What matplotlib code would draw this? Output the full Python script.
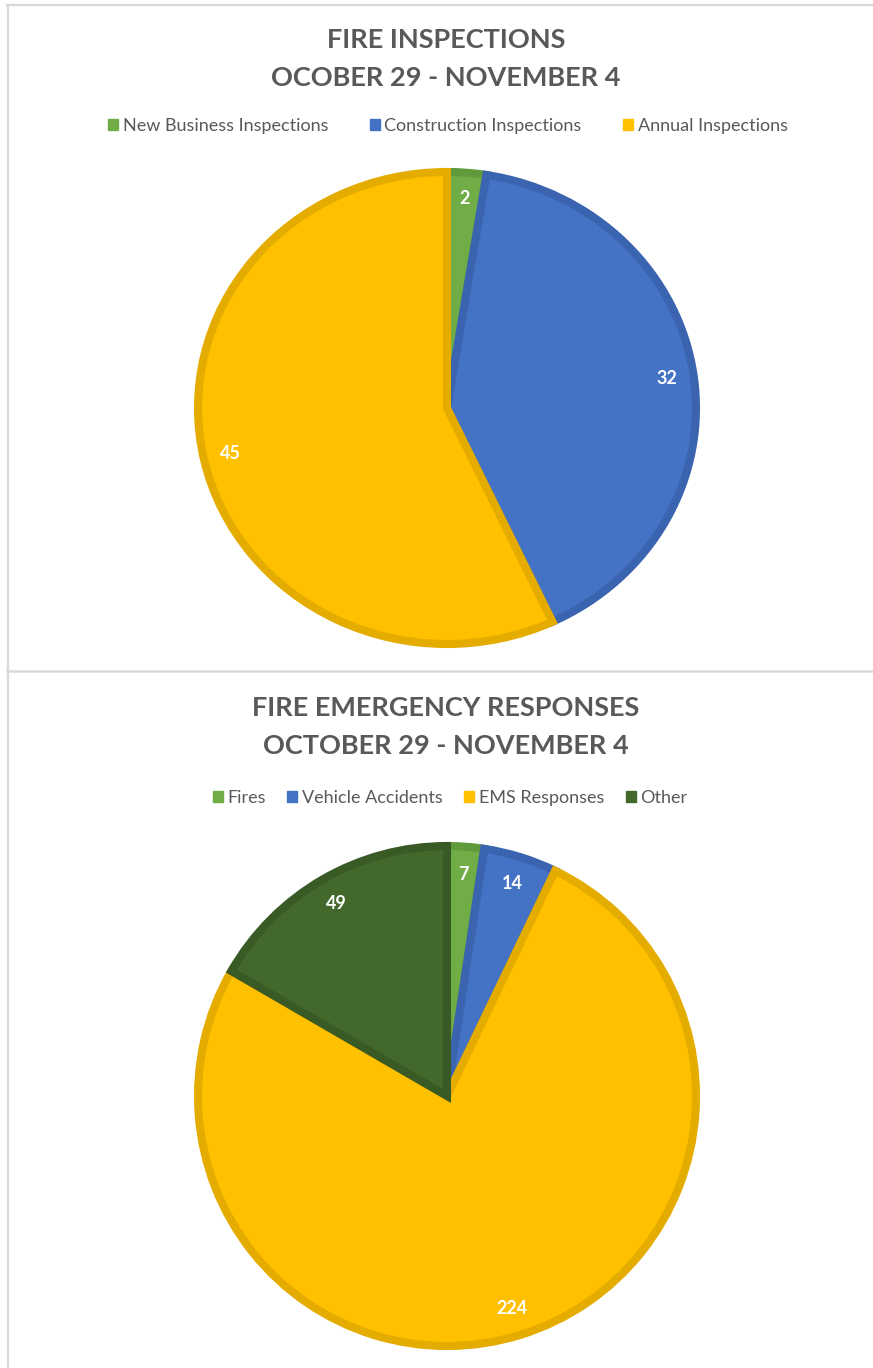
import matplotlib.pyplot as plt
from matplotlib.patches import Patch

# ------------------------------ Data ------------------------------

INSP_LABELS = ["New Business Inspections", "Construction Inspections", "Annual Inspections"]
INSP_VALUES = [2, 32, 45]

RESP_LABELS = ["Fires", "Vehicle Accidents", "EMS Responses", "Other"]
RESP_VALUES = [7, 14, 224, 49]

# ------------------------------ Style -----------------------------

W, H = 873, 1368
FONT = "Lato"
TITLE_COLOR = "#595959"
FRAME_COLOR = "#D9D9D9"

FILL = {"green": "#70AD47", "blue": "#4472C4", "yellow": "#FFC000", "dkgreen": "#43682B"}
EDGE = {"green": "#5F9B3A", "blue": "#3B64B0", "yellow": "#E5AC00", "dkgreen": "#3A5A25"}
INSP_KEYS = ["green", "blue", "yellow"]
RESP_KEYS = ["green", "blue", "yellow", "dkgreen"]

plt.rcParams["font.family"] = [FONT, "DejaVu Sans"]

fig = plt.figure(figsize=(W / 100, H / 100), dpi=100)

# background axes in pixel coords for frame lines and titles
bg = fig.add_axes([0, 0, 1, 1])
bg.set_xlim(0, W)
bg.set_ylim(H, 0)
bg.axis("off")
bg.plot([7, W], [5, 5], color=FRAME_COLOR, lw=1.6)
bg.plot([7.5, 7.5], [5, H], color=FRAME_COLOR, lw=1.6)
bg.plot([7, W], [670.5, 670.5], color=FRAME_COLOR, lw=1.8)


def pie_panel(values, keys, cx, cy, rx, ry):
    left = (cx - rx) / W
    bottom = 1 - (cy + ry) / H
    ax = fig.add_axes([left, bottom, 2 * rx / W, 2 * ry / H])
    total = sum(values)
    wedges, _, autotexts = ax.pie(
        values,
        colors=[FILL[k] for k in keys],
        startangle=90, counterclock=False,
        autopct=lambda p: f"{round(p * total / 100)}",
        pctdistance=0.89,
        wedgeprops=dict(linewidth=5.8, joinstyle="miter"),
        textprops=dict(color="white", fontweight="bold", fontsize=13),
    )
    for w, k in zip(wedges, keys):
        w.set_edgecolor(EDGE[k])
        w.set_clip_on(False)
    ax.set_aspect("auto")
    ax.set_xlim(-1, 1)
    ax.set_ylim(-1, 1)
    ax.axis("off")
    return ax


def legend(labels, keys, x, y, spacing):
    handles = [Patch(facecolor=FILL[k], edgecolor=FILL[k]) for k in keys]
    fig.legend(handles, labels, loc="center", bbox_to_anchor=(x / W, 1 - y / H),
               ncol=len(labels), frameon=False, fontsize=13,
               handlelength=0.55, handleheight=0.55, handletextpad=0.25,
               columnspacing=spacing, labelcolor="#595959")


def title(lines, y0, dy=38):
    for i, s in enumerate(lines):
        bg.text(446, y0 + i * dy, s, ha="center", va="center",
                fontsize=19.5, fontweight="bold", color=TITLE_COLOR)


# ---------------------- Panel A: inspections ----------------------
title(["FIRE INSPECTIONS", "OCOBER 29 - NOVEMBER 4"], 40)
legend(INSP_LABELS, INSP_KEYS, 448, 126, 2.3)
pie_panel(INSP_VALUES, INSP_KEYS, 447, 408, 249, 236)

# ---------------------- Panel B: responses ------------------------
title(["FIRE EMERGENCY RESPONSES", "OCTOBER 29 - NOVEMBER 4"], 708)
legend(RESP_LABELS, RESP_KEYS, 450, 798, 1.2)
pie_panel(RESP_VALUES, RESP_KEYS, 447, 1096, 249, 250)

fig.savefig("out.png", dpi=100)
